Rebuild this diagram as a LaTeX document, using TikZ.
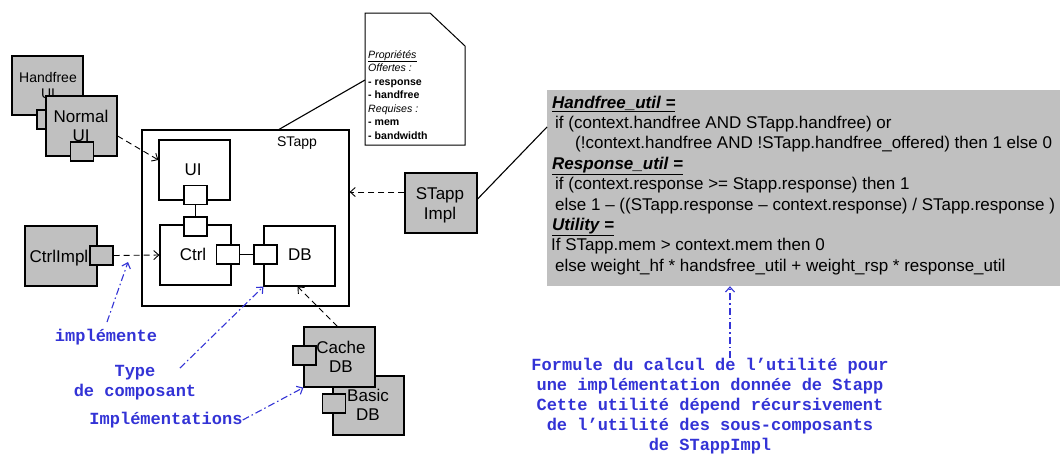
\documentclass[tikz,border=0pt]{standalone}
\usepackage{fontspec}
\setmainfont{Liberation Sans}
\newfontfamily\monob{Liberation Mono}
\usetikzlibrary{arrows.meta}
\definecolor{compgray}{RGB}{192,192,192}
\definecolor{lblue}{RGB}{51,51,214}
\newcommand{\fsA}{\fontsize{17}{20.4}\selectfont}
\newcommand{\fsF}{\fontsize{17}{20.4}\selectfont}
\newcommand{\fsB}{\fontsize{14}{16}\selectfont}
\newcommand{\fsN}{\fontsize{10.6}{13.5}\selectfont}
\newcommand{\fsM}{\monob\bfseries\fontsize{17}{19.8}\selectfont}
\begin{document}
\begin{tikzpicture}[x=1pt,y=-1pt,
  comp/.style={draw, fill=compgray, line width=1.2pt, rectangle, inner sep=0pt},
  wbox/.style={draw, fill=white, line width=1.2pt, rectangle, inner sep=0pt},
  port/.style={comp, minimum width=23pt, minimum height=19pt},
  wport/.style={wbox, minimum width=23pt, minimum height=19pt},
  lbl/.style={anchor=base, inner sep=0pt, font=\fsA},
  flbl/.style={anchor=base west, inner sep=0pt, font=\fsF},
  nlbl/.style={anchor=base west, inner sep=0pt, font=\fsN},
  blbl/.style={inner sep=0pt, font=\fsM, text=lblue, align=center},
  dep/.style={draw, line width=0.9pt, dash pattern=on 6pt off 4pt, -{Straight Barb[length=5pt,width=9pt]}},
  impl/.style={draw=lblue, line width=1.1pt, dash pattern=on 7pt off 3pt on 1.5pt off 3pt, -{Straight Barb[length=5pt,width=9pt]}},
  link/.style={draw, line width=1.1pt}
]
\useasboundingbox (0,0) rectangle (1060,456);
\clip (0,0) rectangle (1060,456);
\fill[white] (0,0) rectangle (1060,456);

% formula box
\node[fill=compgray, minimum width=523pt, minimum height=196pt, inner sep=0pt] (formula) at (808.5,188) {};
\node[flbl] (f1) at (552,108) {\underline{\textbf{\textit{Handfree\_util =}}}};
\node[flbl] (f2) at (555,128.4) {if (context.handfree AND STapp.handfree) or};
\node[flbl] (f3) at (575,148.8) {(!context.handfree AND !STapp.handfree\_offered) then 1 else 0};
\node[flbl] (f4) at (552,169.2) {\underline{\textbf{\textit{Response\_util =}}}};
\node[flbl] (f5) at (555,189.6) {if (context.response >= Stapp.response) then 1};
\node[flbl] (f6) at (555,210) {else 1 – ((STapp.response – context.response) / STapp.response )};
\node[flbl] (f7) at (552,230.4) {\underline{\textbf{\textit{Utility =}}}};
\node[flbl] (f8) at (551,250.8) {If STapp.mem > context.mem then 0};
\node[flbl] (f9) at (555,271.2) {else weight\_hf * handsfree\_util + weight\_rsp * response\_util};

% Handfree UI / Normal UI
\node[comp, minimum width=71pt, minimum height=59pt] (hf) at (47.5,85.5) {};
\node[lbl, font=\fsB] (hft1) at (48,82) {Handfree};
\node[lbl, font=\fsB] (hft2) at (48,98) {UI};
\node[port] (hfp) at (48.5,119.5) {};
\node[comp, minimum width=71pt, minimum height=60pt] (nui) at (81.5,126) {};
\node[lbl] (nuit1) at (81,122) {Normal};
\node[lbl] (nuit2) at (81,141) {UI};
\node[port] (nuip) at (82,151.5) {};

% STapp
\node[wbox, minimum width=207pt, minimum height=176pt] (stapp) at (245.5,218) {};
\node[lbl, font=\fsB] (stappt) at (297,146) {STapp};
\node[wbox, minimum width=71pt, minimum height=60pt] (ui) at (194.5,170) {};
\node[lbl] (uit) at (193,175) {UI};
\node[wport] (uip) at (195.5,195) {};
\node[wbox, minimum width=71pt, minimum height=60pt] (ctrl) at (195.5,255) {};
\node[wport] (ctrlpt) at (195.5,226.5) {};
\node[lbl] (ctrlt) at (193,260) {Ctrl};
\node[wport] (ctrlpr) at (228,254.5) {};
\node[wbox, minimum width=71pt, minimum height=60pt] (db) at (299.5,256) {};
\node[wport] (dbp) at (265.5,254.5) {};
\node[lbl] (dbt) at (300,260) {DB};
\draw[link] (uip.south) -- (ctrlpt.north);
\draw[link] (ctrlpr.east) -- (dbp.west);

% CtrlImpl
\node[comp, minimum width=72pt, minimum height=60pt] (ci) at (61,256) {};
\node[lbl] (cit) at (59,262) {CtrlImpl};
\node[port] (cip) at (101.5,255.5) {};

% STapp Impl
\node[comp, minimum width=72pt, minimum height=60pt] (si) at (441,203) {};
\node[lbl] (sit1) at (440,199) {STapp};
\node[lbl] (sit2) at (440,219) {Impl};

% Basic DB / Cache DB
\node[comp, minimum width=71pt, minimum height=59pt] (bdb) at (368.5,405.5) {};
\node[port] (bdbp) at (334,403.5) {};
\node[lbl] (bdbt1) at (368,401) {Basic};
\node[lbl] (bdbt2) at (368,420) {DB};
\node[comp, minimum width=71pt, minimum height=60pt] (cdb) at (339.5,357) {};
\node[port] (cdbp) at (304.5,355.5) {};
\node[lbl] (cdbt1) at (341,353) {Cache};
\node[lbl] (cdbt2) at (341,372) {DB};

% note
\draw[line width=1pt, fill=white] (365,13) -- (430,13) -- (465,46) -- (465,145) -- (365,145) -- cycle;
\coordinate (notew) at (365,80);
\node[nlbl] (n1) at (368,58) {\underline{\textit{Propriétés}}};
\node[nlbl] (n2) at (368,71.5) {\textit{Offertes :}};
\node[nlbl] (n3) at (368,85) {\textbf{- response}};
\node[nlbl] (n4) at (368,98.5) {\textbf{- handfree}};
\node[nlbl] (n5) at (368,112) {\textit{Requises :}};
\node[nlbl] (n6) at (368,125.5) {\textbf{- mem}};
\node[nlbl] (n7) at (368,139) {\textbf{- bandwidth}};
\coordinate (stappn) at (278,130);
\draw[link] (notew) -- (stappn);

% solid link STapp Impl - formula
\coordinate (fw) at (547,127);
\draw[link] ([yshift=4pt]si.east) -- (fw);

% dependency arrows
\draw[dep] ([yshift=-10pt]nui.east) -- ([yshift=10pt]ui.west);
\draw[dep] (cip.east) -- (ctrl.west);
\coordinate (sia) at ([yshift=11pt]si.west);
\draw[dep] (sia) -- (stapp.east |- sia);
\draw[dep] ([xshift=-2pt]cdb.north) -- ([xshift=-2pt]db.south);

% blue labels
\node[blbl] (impl) at (106,337) {implémente};
\node[blbl] (type) at (135,383) {Type\\de composant};
\node[blbl] (impls) at (166,420) {Implémentations};
\node[blbl] (form) at (710,406) {Formule du calcul de l’utilité pour\\une implémentation donnée de Stapp\\Cette utilité dépend récursivement\\de l’utilité des sous-composants\\de STappImpl};

\coordinate (ia) at (107,322);
\coordinate (ib) at (128,262);
\draw[impl] (ia) -- (ib);
\coordinate (ta) at (180,368);
\draw[impl] (ta) -- (db.south west);
\draw[impl] (impls.east) -- (cdb.south west);
\coordinate (fa) at (730,358);
\draw[impl] (fa) -- (fa |- formula.south);
\end{tikzpicture}
\end{document}
